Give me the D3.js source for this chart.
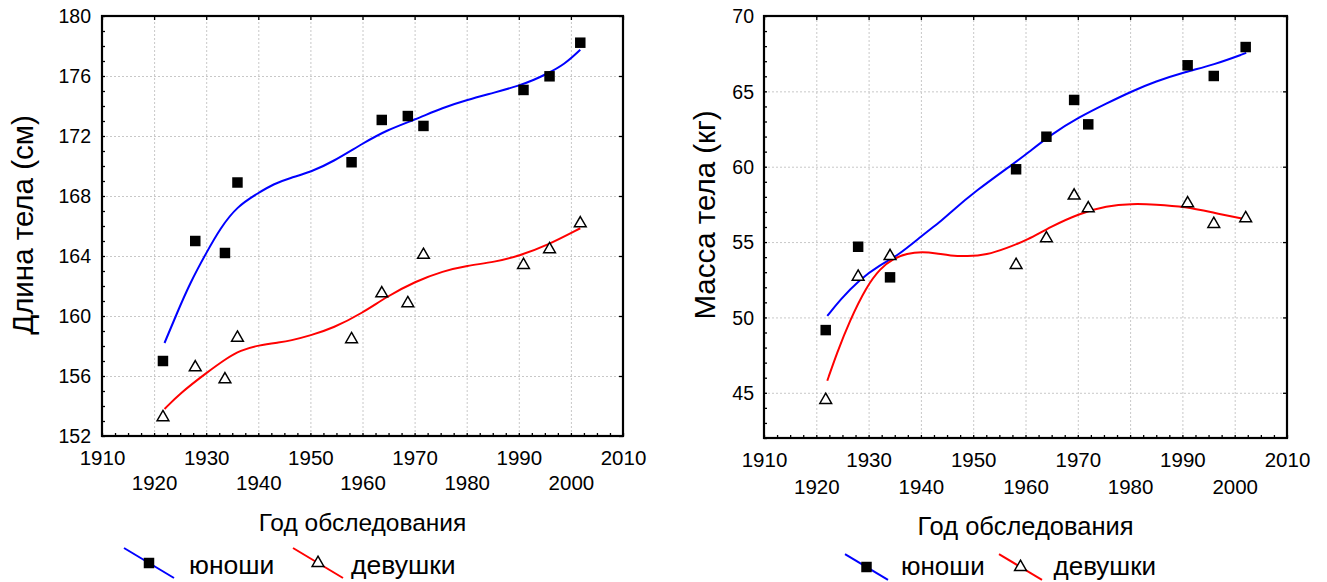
<!DOCTYPE html>
<html>
<head>
<meta charset="utf-8">
<script src="https://cdn.jsdelivr.net/npm/d3@7"></script>
<style>
  body { margin: 0; background: #fff; }
  svg text { font-family: "Liberation Sans", Arial, sans-serif; fill: #000; }
  .grid line { stroke: #c8c8c8; stroke-dasharray: 2,2; }
  .grid path { display: none; }
</style>
</head>
<body>
<svg id="chart" width="1327" height="582"></svg>
<script>
// ---- data ----
const heightYears = [1921.7, 1927.9, 1933.6, 1936.0, 1957.9, 1963.7, 1968.7, 1971.7, 1990.9, 1995.9, 2001.8];
const heightBoys  = [157.0, 165.0, 164.2, 168.9, 170.25, 173.07, 173.33, 172.67, 175.07, 175.98, 178.22];
const heightGirls = [153.25, 156.58, 155.78, 158.55, 158.45, 161.51, 160.85, 164.07, 163.4, 164.45, 166.18];

// smoothed curves, points
const heightBoysFit = [[1922.0,158.2],[1924.4,160.2],[1926.9,162.2],[1930,164.2],[1932.7,165.85],[1935.9,167.3],
  [1940,168.2],[1942.9,168.8],[1946.1,169.2],[1950.1,169.6],[1954.4,170.3],[1960,171.5],[1964.7,172.4],
  [1970.1,173.1],[1975.5,173.9],[1980,174.4],[1985.4,174.9],[1990,175.35],[1993,175.75],[1995.4,176.15],
  [1998.7,176.75],[2001.8,177.75]];
const heightGirlsFit = [[1922,153.8],[1925,154.85],[1930,156.2],[1934,157.2],[1936.5,157.7],[1940,158.05],
  [1944.2,158.25],[1946.1,158.35],[1950,158.7],[1954.4,159.2],[1960,160.2],[1964.7,161.3],[1970.1,162.3],
  [1975.5,163.0],[1980,163.35],[1985.4,163.6],[1990,164.0],[1995.4,164.7],[2001.8,165.85]];

const weightYears = [1921.8, 1928.0, 1934.1, 1958.2, 1964.0, 1969.3, 1972.0, 1991.0, 1996.0, 2002.1];
const weightBoys  = [49.16, 54.69, 52.66, 59.83, 61.99, 64.43, 62.81, 66.73, 66.02, 67.94];
const weightGirls = [44.52, 52.7, 54.07, 53.48, 55.25, 58.08, 57.24, 57.57, 56.2, 56.58];

const weightBoysFit = [[1922.1,50.1],[1924.5,51.15],[1928.2,52.5],[1932.2,53.5],[1935.4,54.05],[1940.3,55.45],
  [1943.7,56.35],[1945.6,56.95],[1950.3,58.35],[1958.3,60.35],[1960.4,60.9],[1964.7,62.1],[1970.3,63.3],
  [1975.5,64.2],[1980.3,65.0],[1984.8,65.65],[1990.6,66.3],[1995.9,66.75],[2002.2,67.55]];
const weightGirlsFit = [[1922.1,45.8],[1923.9,47.6],[1926.4,49.8],[1929.6,52.05],[1932.2,53.25],[1934.7,53.9],
  [1937.3,54.25],[1940.3,54.35],[1943,54.25],[1945.6,54.1],[1948.8,54.05],[1952.6,54.15],[1956.4,54.6],
  [1960.4,55.15],[1964.7,56.0],[1970.3,56.9],[1975.5,57.4],[1980.3,57.55],[1984.8,57.5],[1990.6,57.35],
  [1995.9,56.95],[2002.2,56.5]];

const yearTicks = [1910, 1920, 1930, 1940, 1950, 1960, 1970, 1980, 1990, 2000, 2010];
const heightTicks = [152, 156, 160, 164, 168, 172, 176, 180];
const weightTicks = [45, 50, 55, 60, 65, 70];
const seriesNames = ["юноши", "девушки"];
const xTitle = "Год обследования";

const svg = d3.select("#chart");

function drawPanel(p) {
  const x = d3.scaleLinear().domain([1910, 2010]).range([p.left, p.right]);
  const y = d3.scaleLinear().domain(p.yDomain).range([p.bottom, p.top]);
  const w = p.right - p.left, h = p.bottom - p.top;
  const g = svg.append("g");

  // grid
  g.append("g").attr("class", "grid")
    .attr("transform", `translate(0,${p.bottom})`)
    .call(d3.axisBottom(x).tickValues(yearTicks.slice(1, -1)).tickSize(-h).tickFormat(""));
  g.append("g").attr("class", "grid")
    .attr("transform", `translate(${p.left},0)`)
    .call(d3.axisLeft(y).tickValues(p.yTicks.filter(v => v > p.yDomain[0] && v < p.yDomain[1])).tickSize(-w).tickFormat(""));

  // minor ticks (inward)
  const minorX = d3.range(1910, 2010.1, 2.5);
  const minorY = d3.range(Math.ceil(p.yDomain[0]), p.yDomain[1] + 0.01, 1);
  const tickStyle = sel => { sel.select(".domain").remove(); sel.selectAll("line").attr("stroke", "#000").attr("stroke-width", 1.3); };
  g.append("g").attr("transform", `translate(0,${p.bottom})`)
    .call(d3.axisBottom(x).tickValues(minorX).tickSize(-3).tickFormat("")).call(tickStyle);
  g.append("g").attr("transform", `translate(0,${p.top})`)
    .call(d3.axisTop(x).tickValues(yearTicks).tickSize(-4).tickFormat("")).call(tickStyle);
  g.append("g").attr("transform", `translate(${p.left},0)`)
    .call(d3.axisLeft(y).tickValues(minorY).tickSize(-3).tickFormat("")).call(tickStyle);
  g.append("g").attr("transform", `translate(${p.right},0)`)
    .call(d3.axisRight(y).tickValues(p.yTicks).tickSize(-4).tickFormat("")).call(tickStyle);

  // frame
  g.append("rect").attr("x", p.left).attr("y", p.top).attr("width", w).attr("height", h)
    .attr("fill", "none").attr("stroke", "#000").attr("stroke-width", 2.2);

  // x labels in two staggered rows
  const xl = g.append("g").attr("transform", `translate(0,${p.bottom})`)
    .call(d3.axisBottom(x).tickValues(yearTicks).tickSize(0).tickFormat(d3.format("d")));
  xl.select(".domain").remove();
  xl.selectAll("text").attr("font-size", 20.5).attr("font-family", null)
    .attr("y", (d, i) => i % 2 === 0 ? p.xRow1 : p.xRow2).attr("dy", "0.35em");

  // y labels
  const yl = g.append("g").attr("transform", `translate(${p.left},0)`)
    .call(d3.axisLeft(y).tickValues(p.yTicks).tickSize(0).tickPadding(p.yPad));
  yl.select(".domain").remove();
  yl.selectAll("text").attr("font-size", 19.5).attr("font-family", null).attr("dy", "0.35em");

  // titles
  g.append("text").attr("x", (p.left + p.right) / 2).attr("y", p.xTitleY).attr("dy", "0.35em")
    .attr("text-anchor", "middle").attr("font-size", p.xTitleSize).text(xTitle);
  g.append("text").attr("transform", `translate(${p.yTitleX},${p.yTitleY}) rotate(-90)`)
    .attr("dy", "0.35em").attr("text-anchor", "middle").attr("font-size", 29.5).text(p.yTitle);

  // fitted curves
  const line = d3.line().x(d => x(d[0])).y(d => y(d[1])).curve(d3.curveBasis);
  g.append("path").datum(p.boysFit).attr("d", line).attr("fill", "none").attr("stroke", "#0000ff").attr("stroke-width", 2);
  g.append("path").datum(p.girlsFit).attr("d", line).attr("fill", "none").attr("stroke", "#ff0000").attr("stroke-width", 2);

  // markers
  const sq = d3.symbol().type(d3.symbolSquare).size(110);
  const tri = d3.symbol().type(d3.symbolTriangle).size(60);
  g.append("g").selectAll("path").data(p.years.map((yr, i) => [yr, p.boys[i]])).join("path")
    .attr("transform", d => `translate(${x(d[0])},${y(d[1])})`).attr("d", sq).attr("fill", "#000");
  g.append("g").selectAll("path").data(p.years.map((yr, i) => [yr, p.girls[i]])).join("path")
    .attr("transform", d => `translate(${x(d[0])},${y(d[1])})`).attr("d", tri)
    .attr("fill", "#fff").attr("stroke", "#000").attr("stroke-width", 1.5);

  // legend
  const lg = g.append("g").attr("transform", `translate(${p.legendX},${p.legendY})`);
  const items = [
    { name: seriesNames[0], color: "#0000ff", shape: sq, fill: "#000", stroke: "none", dx: 0, tx: p.legendText[0] },
    { name: seriesNames[1], color: "#ff0000", shape: tri, fill: "#fff", stroke: "#000", dx: p.legendGap, tx: p.legendText[1] }
  ];
  const L = p.legendLine;
  items.forEach(it => {
    const ig = lg.append("g").attr("transform", `translate(${it.dx},0)`);
    ig.append("line").attr("x1", 0).attr("y1", -L * 0.3).attr("x2", L).attr("y2", L * 0.3)
      .attr("stroke", it.color).attr("stroke-width", 2);
    ig.append("path").attr("transform", `translate(${L / 2},0)`).attr("d", it.shape)
      .attr("fill", it.fill).attr("stroke", it.stroke).attr("stroke-width", 1.5);
    ig.append("text").attr("x", it.tx).attr("y", p.legendBase).attr("font-size", p.legendSize).text(it.name);
  });
}

drawPanel({
  left: 102, right: 623, top: 16, bottom: 436,
  yDomain: [152, 180], yTicks: heightTicks, yPad: 11,
  years: heightYears, boys: heightBoys, girls: heightGirls,
  boysFit: heightBoysFit, girlsFit: heightGirlsFit,
  yTitle: "Длина тела (см)", yTitleX: 23, yTitleY: 225,
  xRow1: 22, xRow2: 47, xTitleY: 522, xTitleSize: 24.5,
  legendX: 124, legendY: 563, legendGap: 169, legendLine: 50, legendText: [65, 58],
  legendBase: 11, legendSize: 26.5
});

drawPanel({
  left: 764, right: 1287, top: 16, bottom: 438,
  yDomain: [42, 70], yTicks: weightTicks, yPad: 10,
  years: weightYears, boys: weightBoys, girls: weightGirls,
  boysFit: weightBoysFit, girlsFit: weightGirlsFit,
  yTitle: "Масса тела (кг)", yTitleX: 705, yTitleY: 215,
  xRow1: 22, xRow2: 49, xTitleY: 526, xTitleSize: 25.5,
  legendX: 845, legendY: 567, legendGap: 154, legendLine: 43, legendText: [56, 54.5],
  legendBase: 8, legendSize: 26
});
</script>
</body>
</html>
